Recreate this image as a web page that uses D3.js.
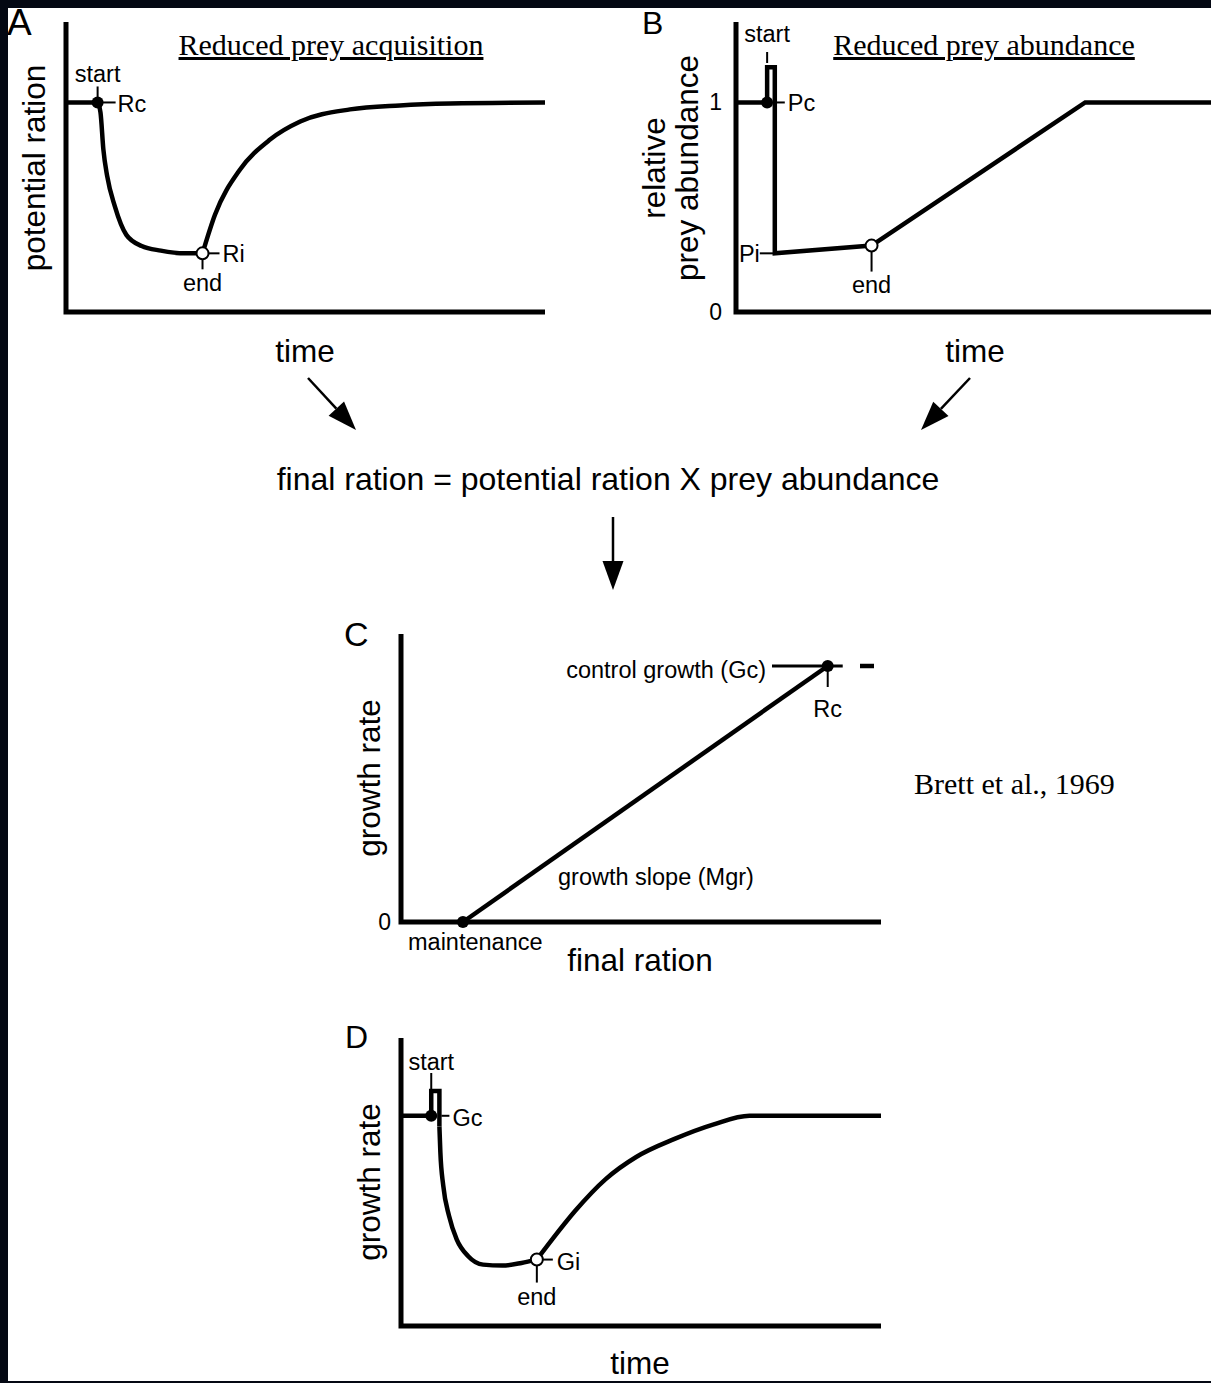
<!DOCTYPE html>
<html>
<head>
<meta charset="utf-8">
<script src="https://cdn.jsdelivr.net/npm/d3@7"></script>
<style>
  html, body { margin: 0; padding: 0; background: #fff; }
  svg { display: block; }
</style>
</head>
<body>
<svg id="fig" width="1211" height="1383"></svg>
<script>
// ---- Panel A: potential ration over time (reduced prey acquisition) ----
const aDeclineTime   = [0, 6.6, 7.2, 7.8, 8.6, 10.2, 12.6, 15.8, 19.8, 24.6, 28.5];
const aDeclineRation = [1, 1, 0.952, 0.776, 0.648, 0.504, 0.368, 0.315, 0.293, 0.28, 0.28];
const aRecoverTime   = [28.5, 31.1, 36.3, 42.6, 48.9, 59.3, 69.7, 80.2, 100];
const aRecoverRation = [0.28, 0.464, 0.679, 0.823, 0.909, 0.967, 0.986, 0.995, 1];

// ---- Panel B: relative prey abundance over time (reduced prey abundance) ----
const bTime      = [0, 6.5, 6.5, 8.1, 8.1, 28.3, 72.9, 100];
const bAbundance = [1, 1, 1.168, 1.168, 0.28, 0.317, 1, 1];
const bTicks     = [0, 1];

// ---- Panel C: growth rate vs final ration ----
const cRation = [12.9, 88.9];   // maintenance, Rc
const cGrowth = [0, 1];         // 0, Gc
const cTicks  = [0];

// ---- Panel D: growth rate over time ----
const dSpikeTime     = [0, 6.3, 6.3, 8.0, 8.0];
const dSpikeGrowth   = [1, 1, 1.118, 1.118, 0.95];
const dDeclineTime   = [8.0, 8.2, 8.8, 10.0, 11.6, 14.0, 17.1, 21.1, 25.1, 28.3];
const dDeclineGrowth = [0.95, 0.827, 0.668, 0.524, 0.412, 0.332, 0.292, 0.2875, 0.30, 0.316];
const dRecoverTime   = [28.3, 31.5, 36.3, 42.7, 49.0, 57.0, 65.0, 72.6, 100];
const dRecoverGrowth = [0.316, 0.412, 0.548, 0.70, 0.804, 0.89, 0.958, 1, 1];

const SANS = "'Liberation Sans', Arial, Helvetica, sans-serif";
const SERIF = "'Liberation Serif', 'Times New Roman', serif";

const svg = d3.select("#fig");
const zip = (xs, ys) => xs.map((x, i) => [x, ys[i]]);

function text(g, x, y, str, size, opts = {}) {
  const t = g.append("text")
    .attr("x", x).attr("y", y)
    .attr("font-family", opts.family || SANS)
    .attr("font-size", size)
    .attr("fill", "#000")
    .attr("text-anchor", opts.anchor || "start")
    .text(str);
  if (opts.rotate) t.attr("transform", `rotate(-90 ${x} ${y})`);
  if (opts.underline) t.style("text-decoration", "underline");
  return t;
}

function seg(g, x1, y1, x2, y2, w) {
  g.append("line").attr("x1", x1).attr("y1", y1).attr("x2", x2).attr("y2", y2)
    .attr("stroke", "#000").attr("stroke-width", w || 2);
}

function frame(g, x, y) {
  const [x0, x1] = x.range();
  const [y0, y1] = y.range();
  g.append("path")
    .attr("d", `M${x0},${y1}L${x0},${y0}L${x1},${y0}`)
    .attr("fill", "none").attr("stroke", "#000")
    .attr("stroke-width", 5).attr("stroke-linejoin", "miter");
}

function curve(g, pts, x, y, kind) {
  const line = d3.line().x(d => x(d[0])).y(d => y(d[1]))
    .curve(kind || d3.curveLinear);
  g.append("path").attr("d", line(pts))
    .attr("fill", "none").attr("stroke", "#000")
    .attr("stroke-width", 4.5).attr("stroke-linejoin", "miter")
    .attr("stroke-linecap", "butt");
}

function dot(g, cx, cy, open) {
  g.append("circle").attr("cx", cx).attr("cy", cy).attr("r", 6)
    .attr("fill", open ? "#fff" : "#000")
    .attr("stroke", "#000").attr("stroke-width", open ? 2 : 0);
}

function arrow(x1, y1, x2, y2) {
  const len = Math.hypot(x2 - x1, y2 - y1);
  const ux = (x2 - x1) / len, uy = (y2 - y1) / len;
  const head = 29, half = 10.5;
  const bx = x2 - ux * head, by = y2 - uy * head;
  svg.append("line").attr("x1", x1).attr("y1", y1).attr("x2", bx).attr("y2", by)
    .attr("stroke", "#000").attr("stroke-width", 2.5);
  svg.append("polygon")
    .attr("points", [[x2, y2], [bx - uy * half, by + ux * half], [bx + uy * half, by - ux * half]]
      .map(p => p.join(",")).join(" "))
    .attr("fill", "#000");
}

// ===== Panel A =====
{
  const g = svg.append("g");
  const x = d3.scaleLinear([0, 100], [66, 545]);
  const y = d3.scaleLinear([0, 1.384], [312, 22]);
  frame(g, x, y);
  const decline = zip(aDeclineTime, aDeclineRation);
  const recover = zip(aRecoverTime, aRecoverRation);
  curve(g, decline, x, y, d3.curveMonotoneX);
  curve(g, recover, x, y, d3.curveMonotoneX);

  const s = decline[1], e = decline[decline.length - 1];
  const sx = x(s[0]), sy = y(s[1]), ex = x(e[0]), ey = y(e[1]);
  seg(g, sx, sy - 16, sx, sy);
  seg(g, sx, sy, sx + 18, sy);
  dot(g, sx, sy, false);
  text(g, sx, sy - 20, "start", 23.5, { anchor: "middle" });
  text(g, sx + 20, sy + 10, "Rc", 23.5);

  seg(g, ex, ey, ex + 17, ey);
  seg(g, ex, ey, ex, ey + 16);
  dot(g, ex, ey, true);
  text(g, ex + 20, ey + 9, "Ri", 23.5);
  text(g, ex, ey + 38, "end", 23.5, { anchor: "middle" });

  text(g, 331, 55, "Reduced prey acquisition", 30, { family: SERIF, anchor: "middle", underline: true });
  text(g, 45, 168, "potential ration", 31.5, { anchor: "middle", rotate: true });
  text(g, 305, 362, "time", 31.5, { anchor: "middle" });
  text(g, 7, 35, "A", 37);
}

// ===== Panel B =====
{
  const g = svg.append("g");
  const x = d3.scaleLinear([0, 100], [736, 1215]);
  const y = d3.scaleLinear([0, 1.384], [312, 22]);
  frame(g, x, y);
  const pts = zip(bTime, bAbundance);
  curve(g, pts, x, y, d3.curveLinear);

  g.append("g").attr("transform", `translate(${x.range()[0] - 10},0)`)
    .call(d3.axisLeft(y).tickValues(bTicks).tickSize(0).tickPadding(4).tickFormat(d3.format("d")))
    .call(a => a.select(".domain").remove())
    .selectAll("text").attr("font-family", SANS).attr("font-size", 23).attr("fill", "#000");

  const s = pts[1], pi = pts[4], e = pts[5];
  const sx = x(s[0]), sy = y(s[1]);
  seg(g, sx, 52, sx, 63);
  text(g, sx, 42, "start", 23.5, { anchor: "middle" });
  dot(g, sx, sy, false);
  seg(g, x(pi[0]) + 2, sy, x(pi[0]) + 10, sy);
  text(g, x(pi[0]) + 13, sy + 9, "Pc", 23.5);

  const px = x(pi[0]), py = y(pi[1]);
  seg(g, px - 15, py, px, py);
  text(g, px - 15, py + 9, "Pi", 23.5, { anchor: "end" });

  const ex = x(e[0]), ey = y(e[1]);
  seg(g, ex, ey, ex, ey + 26);
  dot(g, ex, ey, true);
  text(g, ex, ey + 47, "end", 23.5, { anchor: "middle" });

  text(g, 984, 55, "Reduced prey abundance", 30, { family: SERIF, anchor: "middle", underline: true });
  text(g, 665, 168, "relative", 31.5, { anchor: "middle", rotate: true });
  text(g, 698, 168, "prey abundance", 31.5, { anchor: "middle", rotate: true });
  text(g, 975, 362, "time", 31.5, { anchor: "middle" });
  text(g, 642, 34, "B", 32);
}

// ===== Connecting formula and arrows =====
arrow(308, 378, 356, 430);
arrow(970, 378, 921, 430);
text(svg, 608, 490, "final ration = potential ration X prey abundance", 32, { anchor: "middle" });
arrow(613, 517, 613, 590);

// ===== Panel C =====
{
  const g = svg.append("g");
  const x = d3.scaleLinear([0, 100], [401, 881]);
  const y = d3.scaleLinear([0, 1.125], [922, 634]);
  frame(g, x, y);
  const pts = zip(cRation, cGrowth);

  g.append("g").attr("transform", `translate(${x.range()[0] - 8},0)`)
    .call(d3.axisLeft(y).tickValues(cTicks).tickSize(0).tickPadding(2).tickFormat(d3.format("d")))
    .call(a => a.select(".domain").remove())
    .selectAll("text").attr("font-family", SANS).attr("font-size", 23).attr("fill", "#000");

  const [mx, my] = [x(pts[0][0]), y(pts[0][1])];
  const [rx, ry] = [x(pts[1][0]), y(pts[1][1])];
  seg(g, 772, ry, rx + 15, ry, 3);
  seg(g, 860, ry, 874, ry, 4.5);
  seg(g, rx, ry, rx, ry + 21);
  curve(g, pts, x, y, d3.curveLinear);
  dot(g, mx, my, false);
  dot(g, rx, ry, false);

  text(g, 766, 678, "control growth (Gc)", 23.5, { anchor: "end" });
  text(g, rx, 717, "Rc", 23.5, { anchor: "middle" });
  text(g, 558, 885, "growth slope (Mgr)", 23.5);
  text(g, 408, 950, "maintenance", 23.5);
  text(g, 640, 971, "final ration", 31.5, { anchor: "middle" });
  text(g, 380, 778, "growth rate", 31.5, { anchor: "middle", rotate: true });
  text(g, 344, 646, "C", 34);
  text(g, 914, 794, "Brett et al., 1969", 30, { family: SERIF });
}

// ===== Panel D =====
{
  const g = svg.append("g");
  const x = d3.scaleLinear([0, 100], [401, 881]);
  const y = d3.scaleLinear([0, 1.37], [1326, 1038]);
  frame(g, x, y);
  const spike = zip(dSpikeTime, dSpikeGrowth);
  const decline = zip(dDeclineTime, dDeclineGrowth);
  const recover = zip(dRecoverTime, dRecoverGrowth);
  curve(g, spike, x, y, d3.curveLinear);
  curve(g, decline, x, y, d3.curveMonotoneX);
  curve(g, recover, x, y, d3.curveMonotoneX);

  const s = spike[1], e = decline[decline.length - 1];
  const sx = x(s[0]), sy = y(s[1]);
  seg(g, sx, 1073, sx, 1090);
  text(g, sx, 1070, "start", 23.5, { anchor: "middle" });
  dot(g, sx, sy, false);
  seg(g, x(spike[3][0]) + 2, sy, x(spike[3][0]) + 10, sy);
  text(g, x(spike[3][0]) + 13, sy + 10, "Gc", 23.5);

  const ex = x(e[0]), ey = y(e[1]);
  seg(g, ex, ey, ex + 16, ey);
  seg(g, ex, ey, ex, ey + 23);
  dot(g, ex, ey, true);
  text(g, ex + 20, ey + 10, "Gi", 23.5);
  text(g, ex, 1305, "end", 23.5, { anchor: "middle" });

  text(g, 380, 1182, "growth rate", 31.5, { anchor: "middle", rotate: true });
  text(g, 640, 1374, "time", 31.5, { anchor: "middle" });
  text(g, 345, 1048, "D", 32);
}

// ===== Dark frame around the figure =====
svg.append("rect").attr("x", 0).attr("y", 0).attr("width", 1211).attr("height", 8).attr("fill", "#040813");
svg.append("rect").attr("x", 0).attr("y", 0).attr("width", 8).attr("height", 1383).attr("fill", "#040813");
svg.append("rect").attr("x", 0).attr("y", 1381).attr("width", 1211).attr("height", 2).attr("fill", "#040813");
</script>
</body>
</html>
